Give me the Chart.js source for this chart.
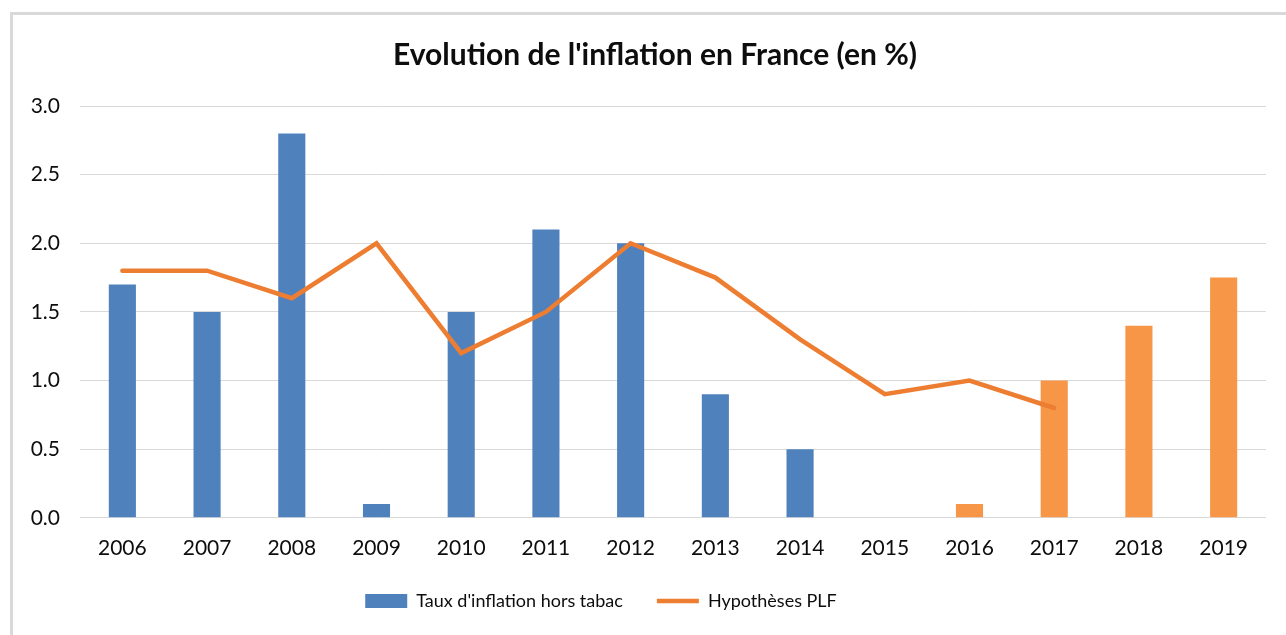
<!DOCTYPE html>
<html>
<head>
<meta charset="utf-8">
<script src="https://cdn.jsdelivr.net/npm/chart.js@4/dist/chart.umd.min.js"></script>
<style>
  html, body { margin: 0; padding: 0; background: #fff; overflow: hidden; }
  #wrap { position: absolute; left: 0; top: 0; width: 1286px; height: 635px; }
  #frame { position: absolute; left: 10px; top: 12px; width: 1290px; height: 640px;
           border-left: 3px solid #d9d9d9; border-top: 3px solid #d9d9d9; pointer-events: none; }
</style>
</head>
<body>
<div id="wrap"><canvas id="c" width="1286" height="635"></canvas></div>
<div id="frame"></div>
<script>
const years = ['2006','2007','2008','2009','2010','2011','2012','2013','2014','2015','2016','2017','2018','2019'];
const inflationHorsTabac = [1.7, 1.5, 2.8, 0.1, 1.5, 2.1, 2.0, 0.9, 0.5, 0, 0.1, 1.0, 1.4, 1.75];
const hypothesesPLF = [1.8, 1.8, 1.6, 2.0, 1.2, 1.5, 2.0, 1.75, 1.3, 0.9, 1.0, 0.8, null, null];
const yTicks = [0, 0.5, 1.0, 1.5, 2.0, 2.5, 3.0];
const firstForecastYear = '2016';

const BLUE = '#4f81bd', ORANGE_BAR = '#f79646', ORANGE_LINE = '#ed7d31';
const TXT = '#0d0d0d';
const FONT = 'Lato, "Open Sans", sans-serif';

const barColors = years.map(y => (y >= firstForecastYear ? ORANGE_BAR : BLUE));

const shiftBoxes = {
  id: 'shiftBoxes',
  afterLayout(chart) {
    const lg = chart.legend;
    if (lg) { lg.left -= 32; lg.right -= 32; lg.top -= 21; lg.bottom -= 21; }
    const tb = chart.titleBlock;
    if (tb) { tb.left += 22; tb.right += 22; }
  }
};

new Chart(document.getElementById('c'), {
  data: {
    labels: years,
    datasets: [
      {
        type: 'line',
        label: 'Hypothèses PLF',
        data: hypothesesPLF,
        borderColor: ORANGE_LINE,
        backgroundColor: ORANGE_LINE,
        borderWidth: 4.5,
        pointRadius: 0,
        pointHoverRadius: 0,
        pointStyle: 'line',
        tension: 0,
        borderCapStyle: 'round',
        borderJoinStyle: 'miter',
        spanGaps: false,
        order: 0
      },
      {
        type: 'bar',
        label: "Taux d'inflation hors tabac",
        data: inflationHorsTabac,
        backgroundColor: barColors,
        borderWidth: 0,
        pointStyle: 'rect',
        barPercentage: 0.32,
        categoryPercentage: 1.0,
        order: 1
      }
    ]
  },
  options: {
    responsive: false,
    animation: false,
    devicePixelRatio: 1,
    layout: { padding: { left: 0, right: 20, top: 12, bottom: -6 } },
    plugins: {
      title: {
        display: true,
        text: "Evolution de l'inflation en France (en %)",
        color: TXT,
        font: { family: FONT, size: 30, weight: 'bold' },
        padding: { top: 25, bottom: 33 }
      },
      legend: {
        display: true,
        position: 'bottom',
        reverse: true,
        labels: {
          color: TXT,
          font: { family: FONT, size: 18 },
          usePointStyle: true,
          pointStyleWidth: 42,
          boxWidth: 42,
          boxHeight: 14,
          padding: 34
        }
      },
      tooltip: { enabled: false }
    },
    scales: {
      x: {
        grid: { display: false, drawTicks: false },
        border: { display: false },
        ticks: { color: TXT, font: { family: FONT, size: 21 }, padding: 18, maxRotation: 0 }
      },
      y: {
        min: 0, max: 3,
        afterBuildTicks: (s) => { s.ticks = yTicks.map(v => ({ value: v })); },
        afterFit: (s) => { s.width = 80; },
        grid: { color: '#d9d9d9', lineWidth: 1, drawTicks: false },
        border: { display: false },
        ticks: {
          color: TXT,
          font: { family: FONT, size: 21 },
          padding: 20,
          callback: (v) => Number(v).toFixed(1)
        }
      }
    }
  },
  plugins: [shiftBoxes]
});
</script>
</body>
</html>
